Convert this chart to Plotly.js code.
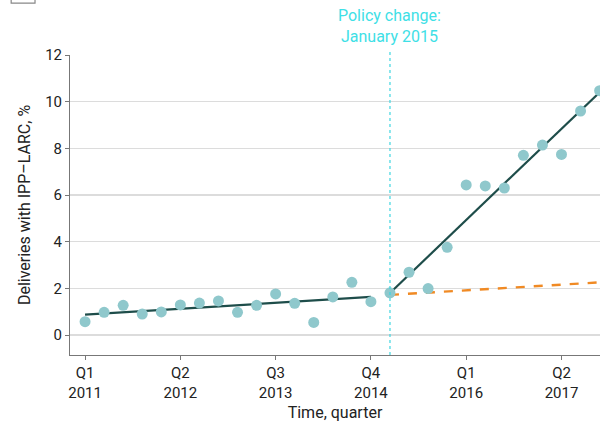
<!DOCTYPE html>
<html>
<head>
<meta charset="utf-8">
<script src="https://cdn.plot.ly/plotly-3.0.1.min.js"></script>
<style>html,body{margin:0;padding:0;background:#fff;}#chart{width:600px;height:429px;}</style>
</head>
<body>
<div id="chart"></div>
<script>
// Quarter index: 0 = Q1 2011 ... 27 = Q4 2017
const quarters = [0,1,2,3,4,5,6,7,8,9,10,11,12,13,14,15,16,17,18,19,20,21,22,23,24,25,26,27];
const observed = [0.57,0.97,1.27,0.90,0.99,1.29,1.37,1.46,0.97,1.27,1.76,1.36,0.54,1.63,2.26,1.43,1.81,2.69,1.99,3.76,6.43,6.39,6.30,7.70,8.14,7.74,9.60,10.47];
const preTrendX = [0, 15];
const preTrendY = [0.87, 1.63];
const postTrendX = [16, 27.1];
const postTrendY = [1.80, 10.48];
const counterX = [16, 27.1];
const counterY = [1.72, 2.26];
const tickPos = [0, 5, 10, 15, 20, 25];
const tickLabels = ["Q1<br>2011","Q2<br>2012","Q3<br>2013","Q4<br>2014","Q1<br>2016","Q2<br>2017"];
const policyX = 16;

const font = "Roboto, 'Noto Sans', sans-serif";
const traces = [
  {x: preTrendX, y: preTrendY, mode: 'lines', line: {color: '#1e4d4a', width: 2.2}, hoverinfo: 'skip'},
  {x: postTrendX, y: postTrendY, mode: 'lines', line: {color: '#1e4d4a', width: 2.2}, hoverinfo: 'skip'},
  {x: counterX, y: counterY, mode: 'lines', line: {color: '#f08a24', width: 2.4, dash: 'dash'}, hoverinfo: 'skip'},
  {x: quarters, y: observed, mode: 'markers', marker: {color: '#8fc8cc', size: 11}, cliponaxis: false}
];
const layout = {
  width: 600, height: 429,
  margin: {l: 70, r: 0, t: 55, b: 74},
  paper_bgcolor: '#fff', plot_bgcolor: '#fff',
  showlegend: false,
  font: {family: font, size: 15, color: '#222'},
  xaxis: {
    range: [-0.79, 27.02], tickvals: tickPos, ticktext: tickLabels,
    showgrid: false, zeroline: false, showline: true, linecolor: '#777', linewidth: 1,
    ticks: 'outside', ticklen: 4, tickcolor: '#777',
    tickfont: {family: font, size: 15, color: '#222'},
    title: {text: 'Time, quarter', font: {family: font, size: 16, color: '#222'}, standoff: 6}
  },
  yaxis: {
    range: [-0.857, 12], tickvals: [0,2,4,6,8,10,12],
    showgrid: true, gridcolor: '#dcdcdc', gridwidth: 1.3, zeroline: false,
    showline: true, linecolor: '#777', linewidth: 1,
    ticks: 'outside', ticklen: 4, tickcolor: '#777',
    tickfont: {family: font, size: 15, color: '#222'},
    title: {text: 'Deliveries with IPP–LARC, %', font: {family: font, size: 16, color: '#222'}, standoff: 10}
  },
  shapes: [
    {type: 'line', xref: 'x', yref: 'paper', x0: policyX, x1: policyX, y0: 0, y1: 1.01,
     line: {color: '#3fd6e0', width: 1.2, dash: 'dot'}},
    {type: 'rect', xref: 'paper', yref: 'paper', x0: -0.111, x1: -0.066, y0: 1.173, y1: 1.25,
     line: {color: '#888', width: 1.2}}
  ],
  annotations: [
    {x: policyX, xref: 'x', y: 1.025, yref: 'paper', yanchor: 'bottom', showarrow: false,
     text: 'Policy change:<br>January 2015', align: 'center',
     font: {family: font, size: 16, color: '#3ee0e6'}}
  ]
};
Plotly.newPlot('chart', traces, layout, {staticPlot: true, displayModeBar: false});
</script>
</body>
</html>
